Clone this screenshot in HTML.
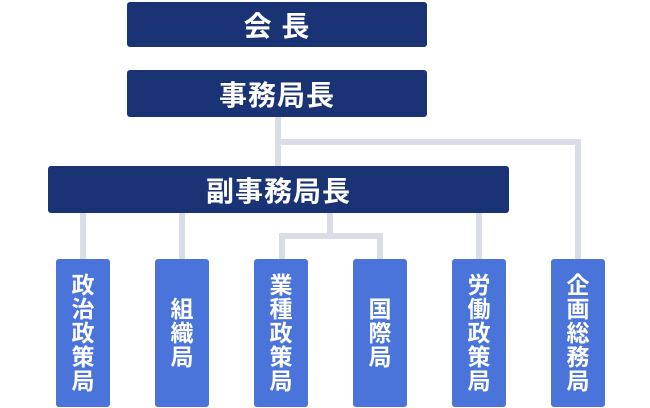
<!DOCTYPE html>
<html><head><meta charset="utf-8"><style>
body{margin:0;width:650px;height:408px;background:#fff;position:relative;overflow:hidden;font-family:"Liberation Sans","Noto Sans CJK JP",sans-serif;font-weight:bold;color:#fff}
.d{position:absolute;background:#1a3375;border-radius:3px;display:flex;align-items:center;justify-content:center;font-size:28px;letter-spacing:1px}
.b{position:absolute;top:259px;width:54px;height:148px;background:#4a74d9;border-radius:3px;display:flex;align-items:center;justify-content:center;font-size:23px;line-height:24px;text-align:center}
.l{position:absolute;background:#d8dde6}
</style></head><body>
<div class="l" style="left:275px;top:117px;width:6px;height:50px"></div>
<div class="l" style="left:275px;top:139px;width:306px;height:6px"></div>
<div class="l" style="left:575px;top:139px;width:6px;height:121px"></div>
<div class="l" style="left:80px;top:212px;width:6px;height:48px"></div>
<div class="l" style="left:179px;top:212px;width:6px;height:48px"></div>
<div class="l" style="left:327px;top:212px;width:6px;height:26px"></div>
<div class="l" style="left:279px;top:233px;width:104px;height:6px"></div>
<div class="l" style="left:279px;top:233px;width:6px;height:27px"></div>
<div class="l" style="left:377px;top:233px;width:6px;height:27px"></div>
<div class="l" style="left:476px;top:212px;width:6px;height:48px"></div>
<div class="d" style="left:127px;top:2px;width:300px;height:45px">会 長</div>
<div class="d" style="left:127px;top:70px;width:300px;height:47px">事務局長</div>
<div class="d" style="left:48px;top:166px;width:461px;height:47px">副事務局長</div>
<div class="b" style="left:56px">政<br>治<br>政<br>策<br>局</div>
<div class="b" style="left:155px">組<br>織<br>局</div>
<div class="b" style="left:254px">業<br>種<br>政<br>策<br>局</div>
<div class="b" style="left:353px">国<br>際<br>局</div>
<div class="b" style="left:452px">労<br>働<br>政<br>策<br>局</div>
<div class="b" style="left:551px">企<br>画<br>総<br>務<br>局</div>
</body></html>
